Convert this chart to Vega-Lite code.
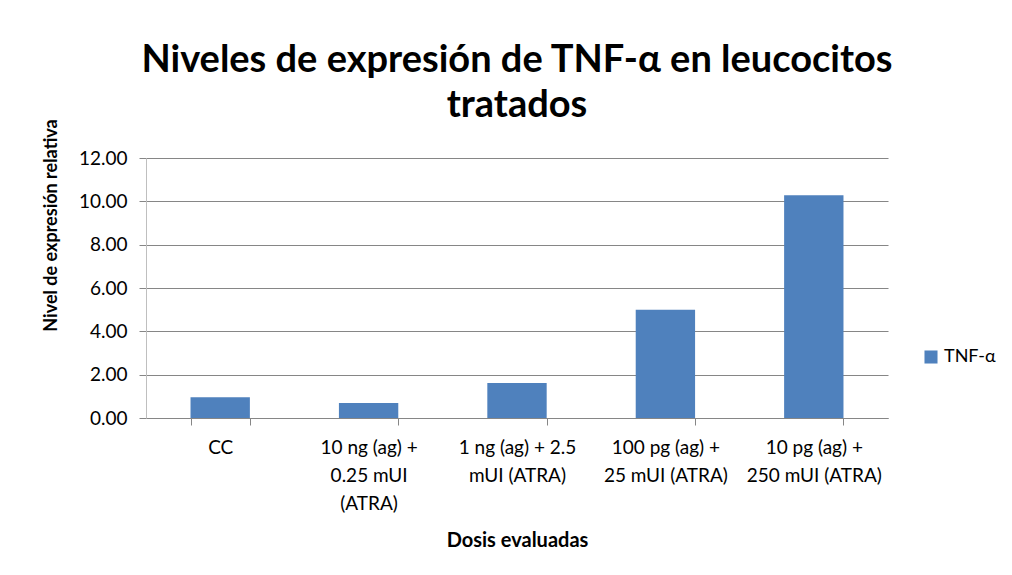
{
  "$schema": "https://vega.github.io/schema/vega-lite/v6.json",
  "width": 742,
  "height": 260,
  "autosize": {"type": "none"},
  "padding": {"left": 146, "top": 158, "right": 124, "bottom": 157},
  "background": "white",
  "title": {
    "text": ["Niveles de expresión de TNF-α en leucocitos", "tratados"],
    "font": "Lato",
    "fontSize": 38,
    "fontWeight": "bold",
    "color": "#000000",
    "anchor": "middle",
    "lineHeight": 45,
    "offset": -6
  },
  "data": {
    "values": [
      {"dosis": "CC", "serie": "TNF-α", "valor": 0.96},
      {"dosis": "10 ng (ag) +|0.25 mUI|(ATRA)", "serie": "TNF-α", "valor": 0.69},
      {"dosis": "1 ng (ag) + 2.5|mUI (ATRA)", "serie": "TNF-α", "valor": 1.61},
      {"dosis": "100 pg (ag) +|25 mUI (ATRA)", "serie": "TNF-α", "valor": 5.0},
      {"dosis": "10 pg (ag) +|250 mUI (ATRA)", "serie": "TNF-α", "valor": 10.28}
    ]
  },
  "mark": {"type": "bar", "color": "#4F81BD"},
  "encoding": {
    "x": {
      "field": "dosis",
      "type": "nominal",
      "sort": null,
      "scale": {"paddingInner": 0.6, "paddingOuter": 0.3},
      "axis": {
        "title": "Dosis evaluadas",
        "titleFont": "Lato",
        "titleFontSize": 20,
        "titleFontWeight": "bold",
        "titleColor": "#000000",
        "titlePadding": 17,
        "labelAngle": 0,
        "labelFont": "Lato",
        "labelFontSize": 19,
        "labelColor": "#000000",
        "labelPadding": 13,
        "labelLineHeight": 28,
        "labelExpr": "split(datum.label, '|')",
        "tickBand": "extent",
        "tickSize": 7,
        "tickColor": "#868686",
        "domainColor": "#868686",
        "grid": false
      }
    },
    "y": {
      "field": "valor",
      "type": "quantitative",
      "scale": {"domain": [0, 12]},
      "axis": {
        "title": "Nivel de expresión relativa",
        "titleFont": "Lato",
        "titleFontSize": 18,
        "titleFontWeight": "bold",
        "titleColor": "#000000",
        "titleX": -86,
        "titleY": 67,
        "values": [0, 2, 4, 6, 8, 10, 12],
        "format": ".2f",
        "labelFont": "Lato",
        "labelFontSize": 19,
        "labelColor": "#000000",
        "labelPadding": 12,
        "tickSize": 7,
        "tickColor": "#868686",
        "gridColor": "#868686",
        "gridWidth": 1.2,
        "domainColor": "#BFBFBF"
      }
    },
    "fill": {
      "field": "serie",
      "type": "nominal",
      "scale": {"range": ["#4F81BD"]},
      "legend": {
        "title": null,
        "orient": "none",
        "legendX": 776,
        "legendY": 190,
        "symbolType": "square",
        "symbolSize": 170,
        "symbolStrokeWidth": 0,
        "labelFont": "Lato",
        "labelFontSize": 18,
        "labelColor": "#000000"
      }
    }
  },
  "config": {"view": {"stroke": null}}
}
